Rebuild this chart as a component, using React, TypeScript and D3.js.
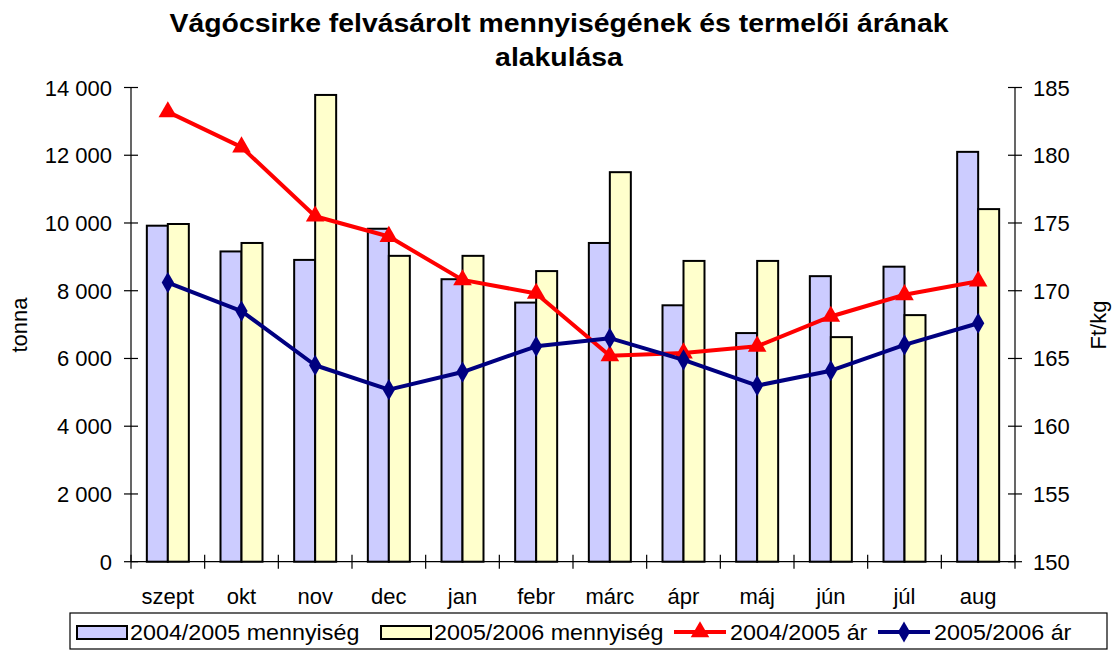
import React from 'react'
import * as d3 from 'd3'

// chart data
const months = ['szept', 'okt', 'nov', 'dec', 'jan', 'febr', 'márc', 'ápr', 'máj', 'jún', 'júl', 'aug']
const qty0405 = [9920, 9160, 8910, 9830, 8340, 7650, 9410, 7570, 6750, 8430, 8710, 12100]
const qty0506 = [9970, 9410, 13780, 9030, 9030, 8580, 11500, 8880, 8880, 6630, 7280, 10410]
const price0405 = [183.2, 180.6, 175.5, 174.0, 170.8, 169.8, 165.2, 165.4, 165.9, 168.1, 169.7, 170.7]
const price0506 = [170.6, 168.5, 164.5, 162.7, 164.0, 165.9, 166.5, 164.9, 163.0, 164.1, 166.0, 167.6]
const leftTicks = [0, 2000, 4000, 6000, 8000, 10000, 12000, 14000]
const rightTicks = [150, 155, 160, 165, 170, 175, 180, 185]

const font = '"Liberation Sans", Arial, sans-serif'
const BLUE_BAR = '#ccccff'
const YELLOW_BAR = '#ffffcc'
const RED = '#ff0000'
const NAVY = '#000080'

const triangle = d3.symbol().type(d3.symbolTriangle).size(150)
const diamond = d3.symbol().type(d3.symbolDiamond).size(130)

export default function App() {
  const width = 1114,
    height = 650
  const left = 131,
    right = 1015,
    top = 87.5,
    bottom = 561.7

  const x = d3.scaleBand<string>().domain(months).range([left, right])
  const barW = x.bandwidth() * 0.285
  const yL = d3.scaleLinear().domain([0, 14000]).range([bottom, top])
  const yR = d3.scaleLinear().domain([150, 185]).range([bottom, top])
  const cx = (m: string) => (x(m) as number) + x.bandwidth() / 2

  const fmt = (v: number) => d3.format(',')(v).replace(/,/g, ' ')

  const line0405 = d3
    .line<number>()
    .x((_, i) => cx(months[i]))
    .y(d => yR(d))
  const line0506 = d3
    .line<number>()
    .x((_, i) => cx(months[i]))
    .y(d => yR(d))

  const txt = { fontFamily: font, fontSize: 22, fill: '#000' }
  const titleStyle = { ...txt, fontSize: 25, fontWeight: 'bold' as const }

  // legend layout
  const legY = 632
  const legend = [
    { kind: 'bar', color: BLUE_BAR, label: '2004/2005 mennyiség', x: 77 },
    { kind: 'bar', color: YELLOW_BAR, label: '2005/2006 mennyiség', x: 381 },
    { kind: 'tri', color: RED, label: '2004/2005 ár', x: 674 },
    { kind: 'dia', color: NAVY, label: '2005/2006 ár', x: 878 },
  ]

  return (
    <svg width={width} height={height} style={{ display: 'block', position: 'absolute', left: 0, top: 0 }}>
      <rect width={width} height={height} fill="#fff" />

      {/* title, the original is a little stretched sideways */}
      <g transform="translate(559, 0) scale(1.135, 1)">
        <text x={0} y={32} textAnchor="middle" style={titleStyle}>
          Vágócsirke felvásárolt mennyiségének és termelői árának
        </text>
        <text x={0} y={66} textAnchor="middle" style={titleStyle}>
          alakulása
        </text>
      </g>

      {/* bars */}
      {months.map((m, i) => (
        <g key={m}>
          <rect
            x={cx(m) - barW}
            y={yL(qty0405[i])}
            width={barW}
            height={bottom - yL(qty0405[i])}
            fill={BLUE_BAR}
            stroke="#000"
            strokeWidth={2}
          />
          <rect
            x={cx(m)}
            y={yL(qty0506[i])}
            width={barW}
            height={bottom - yL(qty0506[i])}
            fill={YELLOW_BAR}
            stroke="#000"
            strokeWidth={2}
          />
        </g>
      ))}

      {/* axes */}
      <line x1={left} x2={left} y1={top} y2={bottom} stroke="#000" strokeWidth={1.2} />
      <line x1={right} x2={right} y1={top} y2={bottom} stroke="#000" strokeWidth={1.2} />
      <line x1={left} x2={right} y1={bottom} y2={bottom} stroke="#000" strokeWidth={1.2} />
      {leftTicks.map(t => (
        <g key={t} transform={`translate(${left}, ${yL(t)})`}>
          <line x1={-7} x2={7} stroke="#000" strokeWidth={1.2} />
          <text x={-19} y={8} textAnchor="end" style={txt}>
            {fmt(t)}
          </text>
        </g>
      ))}
      {rightTicks.map(t => (
        <g key={t} transform={`translate(${right}, ${yR(t)})`}>
          <line x1={-7} x2={7} stroke="#000" strokeWidth={1.2} />
          <text x={18} y={8} style={txt}>
            {t}
          </text>
        </g>
      ))}
      {months.map((m, i) => (
        <g key={m}>
          <line x1={x(m)} x2={x(m)} y1={bottom - 7} y2={bottom + 7} stroke="#000" strokeWidth={1.2} />
          {i === months.length - 1 && (
            <line x1={right} x2={right} y1={bottom - 7} y2={bottom + 7} stroke="#000" strokeWidth={1.2} />
          )}
          <text x={cx(m)} y={604} textAnchor="middle" style={txt}>
            {m}
          </text>
        </g>
      ))}

      {/* axis titles */}
      <text transform="translate(27, 325) rotate(-90)" textAnchor="middle" style={txt}>
        tonna
      </text>
      <text transform="translate(1106, 325) rotate(-90)" textAnchor="middle" style={txt}>
        Ft/kg
      </text>

      {/* lines */}
      <path d={line0405(price0405) || ''} fill="none" stroke={RED} strokeWidth={4} strokeLinejoin="round" />
      {price0405.map((p, i) => (
        <path key={i} d={triangle() || ''} transform={`translate(${cx(months[i])}, ${yR(p)})`} fill={RED} />
      ))}
      <path d={line0506(price0506) || ''} fill="none" stroke={NAVY} strokeWidth={4} strokeLinejoin="round" />
      {price0506.map((p, i) => (
        <path key={i} d={diamond() || ''} transform={`translate(${cx(months[i])}, ${yR(p)})`} fill={NAVY} />
      ))}

      {/* legend */}
      <rect x={70} y={613} width={1037} height={36} fill="#fff" stroke="#000" strokeWidth={1.2} />
      {legend.map(l => (
        <g key={l.label} transform={`translate(${l.x}, ${legY})`}>
          {l.kind === 'bar' ? (
            <rect x={0} y={-6} width={50} height={13} fill={l.color} stroke="#000" strokeWidth={2} />
          ) : (
            <g>
              <line x1={0} x2={52} y1={0} y2={0} stroke={l.color} strokeWidth={4} />
              <path
                d={(l.kind === 'tri' ? triangle : diamond)() || ''}
                transform="translate(26, 0)"
                fill={l.color}
              />
            </g>
          )}
          <g transform={`translate(${l.kind === 'bar' ? 53 : 56}, 0) scale(1.06, 1)`}>
            <text x={0} y={8} style={txt}>
              {l.label}
            </text>
          </g>
        </g>
      ))}
    </svg>
  )
}
